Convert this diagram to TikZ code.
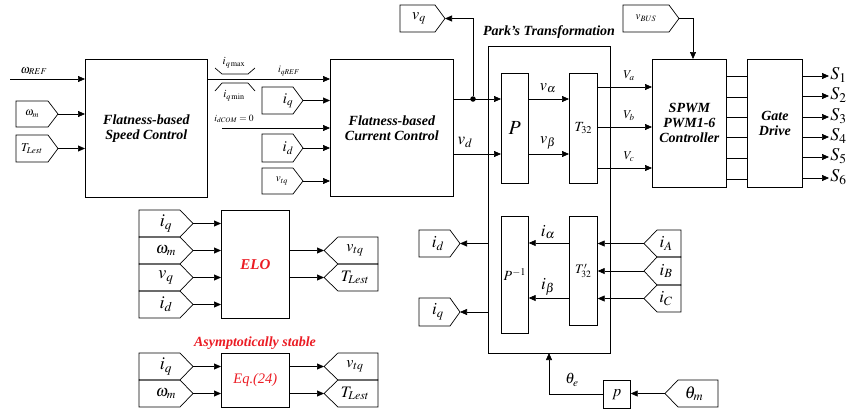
\documentclass[tikz,border=0pt]{standalone}
\usepackage{mathptmx}
\usepackage{fontspec}
\setmainfont{Liberation Serif}
\usetikzlibrary{arrows.meta,calc}
\definecolor{elored}{RGB}{235,28,36}
\newcommand\fsz[1]{\fontsize{#1}{#1}\selectfont}
% tag pointing right: name, xl, yt, xtip, yb, depth, labelx, label
\newcommand\tagR[8]{%
  \draw (#2,#3) -- ({#4-#6},#3) -- (#4,{(#3+#5)/2}) -- ({#4-#6},#5) -- (#2,#5) -- cycle;
  \coordinate (#1) at (#4,{(#3+#5)/2});
  \node[inner sep=0] (#1-l) at (#7,{(#3+#5)/2}) {#8};}
% tag pointing left: name, xtip, yt, xr, yb, depth, labelx, label
\newcommand\tagL[8]{%
  \draw (#2,{(#3+#5)/2}) -- ({#2+#6},#3) -- (#4,#3) -- (#4,#5) -- ({#2+#6},#5) -- cycle;
  \coordinate (#1) at (#2,{(#3+#5)/2});
  \node[inner sep=0] (#1-l) at (#7,{(#3+#5)/2}) {#8};}
\begin{document}
\begin{tikzpicture}[x=1pt,y=-1pt, line width=0.7pt,
  box/.style={draw, inner sep=0, anchor=north west, align=center},
  arr/.style={-{Triangle[length=7pt,width=6pt]}},
  blbl/.style={font=\fsz{14}\bfseries\itshape},
  lbl/.style={inner sep=0}]
\useasboundingbox (0,0) rectangle (853,416);

% ---------- main boxes ----------
\node[box, blbl, minimum width=122pt, minimum height=138pt] (speed) at (85,59) {Flatness-based\\[1pt]Speed Control};
\node[box, blbl, minimum width=123pt, minimum height=137pt] (current) at (330,59) {Flatness-based\\[1pt]Current Control};
\node[box, minimum width=122pt, minimum height=307pt] (park) at (488,46) {};
\node[lbl, blbl] (parkt) at (549,32) {Park's Transformation};
\node[box, minimum width=27pt, minimum height=110pt, font=\fsz{20}] (P) at (501,73) {$P$};
\node[box, minimum width=28pt, minimum height=110pt, font=\fsz{14}] (T32) at (569,73) {$T_{32}$};
\node[box, minimum width=27pt, minimum height=117pt, font=\fsz{14}] (Pinv) at (501,216) {$P^{-1}$};
\node[box, minimum width=28pt, minimum height=109pt, font=\fsz{13}] (T32p) at (569,216) {$T'_{32}$};
\node[box, blbl, minimum width=74pt, minimum height=128pt] (spwm) at (652,59) {SPWM\\[1pt]PWM1-6\\[1pt]Controller};
\node[box, blbl, minimum width=55pt, minimum height=128pt] (gate) at (747,59) {Gate\\[1pt]Drive};
\node[box, blbl, font=\fsz{15}\bfseries\itshape, text=elored, minimum width=68pt, minimum height=108pt] (elo) at (221,210) {ELO};
\node[box, font=\fsz{14.5}\itshape, text=elored, minimum width=68pt, minimum height=54pt] (eq) at (221,353) {Eq.(24)};
\node[lbl, blbl, text=elored] (asym) at (255,343) {Asymptotically stable};
\node[box, font=\fsz{16}, minimum width=27pt, minimum height=28pt] (p) at (603,380) {$p$};

% ---------- tags ----------
\tagR{wm1}{16}{101}{58}{127}{10}{32}{\fsz{11}$\omega_m$}
\tagR{tl1}{16}{135}{58}{162}{10}{32}{\fsz{12}$T_{Lest}$}
\tagR{iq1}{262}{87}{303}{114}{10}{288}{\fsz{15}$i_q$}
\tagR{id1}{262}{134}{303}{162}{10}{288}{\fsz{15}$i_d$}
\tagR{vt1}{262}{168}{303}{194}{10}{282}{\fsz{11}$v_{tq}$}
\tagR{vq0}{400}{5}{445}{32}{10}{419}{\fsz{16}$v_q$}
\tagR{vbus}{623}{5}{679}{32}{10}{646}{\fsz{11}$v_{BUS}$}
\tagR{iq2}{139}{210}{193}{237}{13}{166}{\fsz{18}$i_q$}
\tagR{wm2}{139}{237}{193}{264}{13}{166}{\fsz{16}$\omega_m$}
\tagR{vq2}{139}{264}{193}{291}{13}{166}{\fsz{18}$v_q$}
\tagR{id2}{139}{291}{193}{318}{13}{166}{\fsz{18}$i_d$}
\tagR{iq3}{139}{353}{193}{380}{13}{166}{\fsz{18}$i_q$}
\tagR{wm3}{139}{380}{193}{407}{13}{166}{\fsz{16}$\omega_m$}
\tagR{id3}{419}{230}{460}{257}{10}{438}{\fsz{17}$i_d$}
\tagR{iq4}{419}{298}{460}{326}{10}{438}{\fsz{17}$i_q$}
\tagL{vt2}{324}{237}{378}{264}{14}{355}{\fsz{16}$v_{tq}$}
\tagL{tl2}{324}{264}{378}{291}{14}{355}{\fsz{16}$T_{Lest}$}
\tagL{vt3}{324}{353}{378}{380}{14}{355}{\fsz{16}$v_{tq}$}
\tagL{tl3}{324}{380}{378}{407}{14}{355}{\fsz{16}$T_{Lest}$}
\tagL{ia}{644}{230}{681}{257}{13}{666}{\fsz{17}$i_A$}
\tagL{ib}{644}{257}{681}{285}{13}{666}{\fsz{17}$i_B$}
\tagL{ic}{644}{285}{681}{312}{13}{666}{\fsz{17}$i_C$}
\tagL{thm}{665}{380}{718}{407}{13}{694}{\fsz{17}$\theta_m$}

% ---------- speed control inputs ----------
\coordinate (wref) at (10,79);
\draw[arr] (wref) -- (wref -| speed.west);
\node[lbl, font=\fsz{12}] (wrefl) at (34,71) {$\omega_{REF}$};
\draw[arr] (wm1) -- (wm1 -| speed.west);
\draw[arr] (tl1) -- (tl1 -| speed.west);

% ---------- speed -> current ----------
\draw[arr] (speed.east |- 0,79) -- (current.west |- 0,79);
\draw (215,68) -- (222,74) -- (248,74) -- (255,68);
\draw (215,91) -- (222,83) -- (248,83) -- (255,91);
\node[lbl, font=\fsz{11}] (iqmax) at (234,63) {$i_{q\,\mathrm{max}}$};
\node[lbl, font=\fsz{11}] (iqmin) at (234,96) {$i_{q\,\mathrm{min}}$};
\node[lbl, font=\fsz{10}] (iqref) at (289,71) {$i_{qREF}$};
\draw[arr] (iq1) -- (iq1 -| current.west);
\coordinate (idcom) at (222,128);
\draw[arr] (idcom) -- (idcom -| current.west);
\node[lbl, font=\fsz{9.5}] (idcoml) at (234,119) {$i_{dCOM}=0$};
\draw[arr] (id1) -- (id1 -| current.west);
\draw[arr] (vt1) -- (vt1 -| current.west);

% ---------- current -> Park ----------
\node[circle, fill, inner sep=0, minimum size=5.5pt] (dot) at (473,99) {};
\draw[arr] (dot -| current.east) -- (dot -| P.west);
\draw[arr] (dot) |- (vq0);
\draw[arr] (current.east |- 0,154) -- (P.west |- 0,154);
\node[lbl, font=\fsz{17}] (vdl) at (465,142) {$v_d$};
\draw[arr] (P.east |- 0,99) -- (T32.west |- 0,99);
\node[lbl, font=\fsz{16}] (val) at (548,88) {$v_\alpha$};
\draw[arr] (P.east |- 0,154) -- (T32.west |- 0,154);
\node[lbl, font=\fsz{16}] (vbl) at (548,143) {$v_\beta$};

% ---------- T32 -> SPWM ----------
\draw[arr] (T32.east |- 0,87) -- (spwm.west |- 0,87);
\node[lbl, font=\fsz{12}] (val2) at (629,76) {$V_a$};
\draw[arr] (T32.east |- 0,127) -- (spwm.west |- 0,127);
\node[lbl, font=\fsz{12}] (vbl2) at (629,116) {$V_b$};
\draw[arr] (T32.east |- 0,168) -- (spwm.west |- 0,168);
\node[lbl, font=\fsz{12}] (vcl2) at (629,157) {$V_c$};
\coordinate (vbin) at (693,59);
\draw[arr] (vbus) -| (vbin);

% ---------- SPWM -> gate -> S ----------
\foreach \y in {76,97,117,137,158,179}
  \draw (spwm.east |- 0,\y) -- (gate.west |- 0,\y);
\foreach \y/\n in {76/1,96/2,117/3,137/4,157/5,178/6}{
  \coordinate (s\n) at (829,\y);
  \draw[arr] (gate.east |- s\n) -- (s\n);
  \node[anchor=west, inner sep=1pt, font=\fsz{18}] (S\n) at ([yshift=1pt]s\n) {$S_{\n}$};
}

% ---------- ELO ----------
\foreach \t in {iq2,wm2,vq2,id2}
  \draw[arr] (\t) -- (\t -| elo.west);
\draw[arr] (elo.east |- vt2) -- (vt2);
\draw[arr] (elo.east |- tl2) -- (tl2);

% ---------- Eq.(24) ----------
\foreach \t in {iq3,wm3}
  \draw[arr] (\t) -- (\t -| eq.west);
\draw[arr] (eq.east |- vt3) -- (vt3);
\draw[arr] (eq.east |- tl3) -- (tl3);

% ---------- inverse Park ----------
\draw[arr] (T32p.west |- 0,243) -- (Pinv.east |- 0,243);
\node[lbl, font=\fsz{17}] (ial) at (548,232) {$i_\alpha$};
\draw[arr] (T32p.west |- 0,298) -- (Pinv.east |- 0,298);
\node[lbl, font=\fsz{17}] (ibl) at (548,287) {$i_\beta$};
\draw[arr] (park.west |- id3) -- (id3);
\draw[arr] (park.west |- iq4) -- (iq4);
\draw[arr] (ia) -- (ia -| T32p.east);
\draw[arr] (ib) -- (ib -| T32p.east);
\draw[arr] (ic) -- (ic -| T32p.east);

% ---------- theta ----------
\draw[arr] (thm) -- (thm -| p.east);
\coordinate (thin) at (549,353);
\draw[arr] (p.west) -| (thin);
\node[lbl, font=\fsz{15}] (thel) at (572,380) {$\theta_e$};
\end{tikzpicture}
\end{document}
